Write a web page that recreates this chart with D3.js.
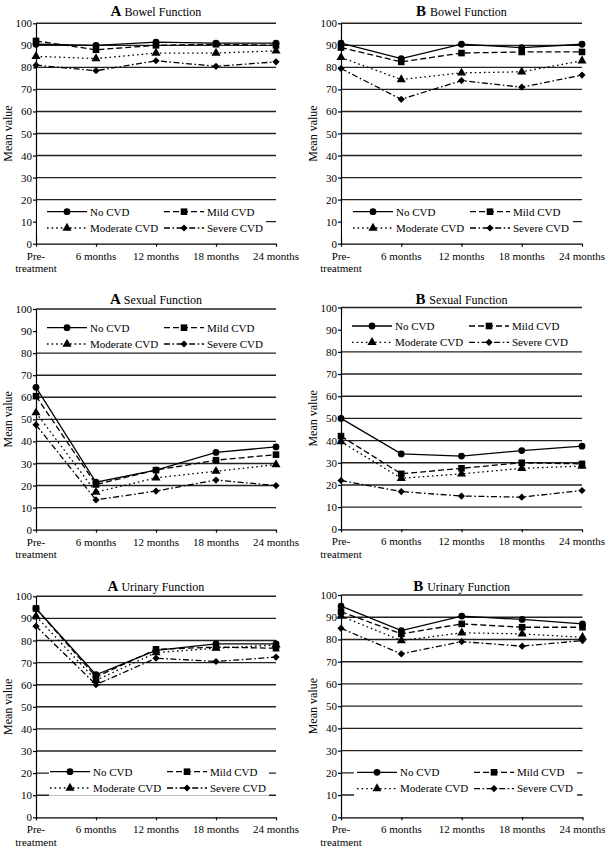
<!DOCTYPE html>
<html>
<head>
<meta charset="utf-8">
<script src="https://cdn.jsdelivr.net/npm/d3@7"></script>
<style>
  html, body { margin: 0; padding: 0; background: #fff; }
  svg { display: block; }
  svg text { font-family: "Liberation Serif", "Times New Roman", Times, serif !important; fill: #000; }
</style>
</head>
<body>
<svg id="chart" width="605" height="848"></svg>
<script>
// ---------- data ----------
const categories = ["Pre-treatment", "6 months", "12 months", "18 months", "24 months"];
const seriesNames = ["No CVD", "Mild CVD", "Moderate CVD", "Severe CVD"];
const yTicks = [0, 10, 20, 30, 40, 50, 60, 70, 80, 90, 100];

// each: [No CVD, Mild CVD, Moderate CVD, Severe CVD]
const bowelA = [
  [90.5, 90, 91.5, 91, 91],
  [92, 88, 90, 90.5, 90],
  [85, 84, 86.5, 86.5, 87.5],
  [81, 78.5, 83, 80.5, 82.5]
];
const bowelB = [
  [91, 84, 90.5, 89, 90.5],
  [89, 82.5, 86.5, 87, 87],
  [84.5, 74.5, 77.5, 78, 83],
  [79.5, 65.5, 74, 71, 76.5]
];
const sexualA = [
  [64.5, 21.5, 27, 35, 37.5],
  [60.5, 20.5, 27, 31.5, 34],
  [53, 17, 23.5, 26.5, 29.5],
  [47.5, 13.5, 17.5, 22.5, 20]
];
const sexualB = [
  [50, 34, 33, 35.5, 37.5],
  [42, 25, 27.5, 30, 29.5],
  [39.5, 23, 25, 27.5, 28.5],
  [22, 17, 15, 14.5, 17.5]
];
const urinaryA = [
  [94.5, 64.5, 75.5, 78.5, 78.5],
  [94.5, 63.5, 76, 77, 76.5],
  [91, 62, 74.5, 76.5, 78],
  [86.5, 60, 72, 70.5, 72.5]
];
const urinaryB = [
  [95, 84, 90.5, 89, 87],
  [92.5, 82.5, 87, 85.5, 85.5],
  [90.5, 79.5, 83, 82.5, 81],
  [85, 73.5, 79, 77, 79.5]
];

// ---------- layout ----------
const panels = [
  { letter: "A", title: "Bowel Function", data: bowelA, x0: 36, x1: 276, yTop: 23.3, yBot: 243.7, titleY: 10,
    lg: { lx: 47, ly: 211.7, left: 37, right: 266 } },
  { letter: "B", title: "Bowel Function", data: bowelB, x0: 341, x1: 582, yTop: 23.3, yBot: 243.7, titleY: 10,
    lg: { lx: 353, ly: 211.7, left: 342, right: 573 } },
  { letter: "A", title: "Sexual Function", data: sexualA, x0: 36, x1: 276, yTop: 309, yBot: 529.7, titleY: 298.3,
    lg: { lx: 47, ly: 327.7, left: 37, right: 277 } },
  { letter: "B", title: "Sexual Function", data: sexualB, x0: 341, x1: 582, yTop: 307.5, yBot: 529.3, titleY: 298.3,
    lg: { lx: 352, ly: 326, left: 342, right: 583 } },
  { letter: "A", title: "Urinary Function", data: urinaryA, x0: 36, x1: 276, yTop: 596.3, yBot: 817.3, titleY: 585.7,
    lg: { lx: 50, ly: 771.7, left: 49, right: 269 } },
  { letter: "B", title: "Urinary Function", data: urinaryB, x0: 341, x1: 582.5, yTop: 595, yBot: 817.3, titleY: 585.7,
    lg: { lx: 357, ly: 772.3, left: 354, right: 577 } }
];

const styles = [
  { dash: null, symbol: "circle" },
  { dash: "6,3", symbol: "square" },
  { dash: "1.6,3", symbol: "triangle" },
  { dash: "6,2.5,1.6,2.5", symbol: "diamond" }
];

const FONT = "'Liberation Serif', 'Times New Roman', Times, serif";
const svg = d3.select("#chart");
svg.append("rect").attr("width", 605).attr("height", 848).attr("fill", "#fff");

function drawMarker(g, type, x, y) {
  if (type === "circle") {
    g.append("circle").attr("cx", x).attr("cy", y).attr("r", 3.4).attr("fill", "#000");
  } else if (type === "square") {
    g.append("rect").attr("x", x - 3.3).attr("y", y - 3.3).attr("width", 6.6).attr("height", 6.6).attr("fill", "#000");
  } else if (type === "triangle") {
    g.append("path").attr("d", d3.symbol().type(d3.symbolTriangle).size(36)()).attr("transform", `translate(${x},${y})`).attr("fill", "#000");
  } else {
    g.append("path").attr("d", d3.symbol().type(d3.symbolSquare).size(26)()).attr("transform", `translate(${x},${y}) rotate(45)`).attr("fill", "#000");
  }
}

panels.forEach(p => {
  const g = svg.append("g").attr("font-family", FONT);
  const x = d3.scalePoint().domain(categories).range([p.x0, p.x1]);
  const y = d3.scaleLinear().domain([0, 100]).range([p.yBot, p.yTop]);

  // gridlines
  g.append("g").selectAll("line").data(yTicks.filter(t => t > 0)).join("line")
    .attr("x1", p.x0).attr("x2", p.x1)
    .attr("y1", d => y(d)).attr("y2", d => y(d))
    .attr("stroke", "#222").attr("stroke-width", 1.4);

  // y axis
  const ya = g.append("g").attr("transform", `translate(${p.x0},0)`)
    .call(d3.axisLeft(y).tickValues(yTicks).tickSize(3).tickPadding(1).tickSizeOuter(0));
  ya.attr("font-family", FONT).attr("font-size", 11);
  ya.select(".domain").attr("stroke", "#000").attr("stroke-width", 1.2);
  ya.selectAll(".tick line").attr("stroke", "#000").attr("stroke-width", 1.2);
  ya.selectAll("text").attr("fill", "#000");

  // x axis
  const xa = g.append("g").attr("transform", `translate(0,${p.yBot})`)
    .call(d3.axisBottom(x).tickSize(3).tickSizeOuter(0).tickFormat(""));
  xa.select(".domain").attr("stroke", "#000").attr("stroke-width", 1.2);
  xa.selectAll(".tick line").attr("stroke", "#000").attr("stroke-width", 1.2);
  xa.selectAll(".tick text").remove();
  categories.forEach(c => {
    const lines = c === "Pre-treatment" ? ["Pre-", "treatment"] : [c];
    lines.forEach((t, i) => {
      g.append("text").attr("x", x(c)).attr("y", p.yBot + 12 + i * 12.5)
        .attr("dy", "0.35em").attr("text-anchor", "middle")
        .attr("font-size", 11).text(t);
    });
  });

  // title
  const tt = g.append("text").attr("x", (p.x0 + p.x1) / 2).attr("y", p.titleY)
    .attr("dy", "0.35em").attr("text-anchor", "middle");
  tt.append("tspan").attr("font-weight", "bold").attr("font-size", 15).text(p.letter + " ");
  tt.append("tspan").attr("font-size", 12).text(p.title);

  // y label
  g.append("text").attr("transform", `translate(${p.x0 - 28},${(p.yTop + p.yBot) / 2}) rotate(-90)`)
    .attr("dy", "0.35em").attr("text-anchor", "middle").attr("font-size", 12).text("Mean value");

  // series
  const line = d3.line().x((d, i) => x(categories[i])).y(d => y(d));
  p.data.forEach((vals, si) => {
    const s = styles[si];
    g.append("path").attr("d", line(vals)).attr("fill", "none")
      .attr("stroke", "#000").attr("stroke-width", 1.3)
      .attr("stroke-dasharray", s.dash);
    vals.forEach((v, i) => drawMarker(g, s.symbol, x(categories[i]), y(v)));
  });

  // legend
  const L = p.lg;
  const lg = g.append("g");
  lg.append("rect").attr("x", L.left).attr("y", L.ly - 8).attr("width", L.right - L.left).attr("height", 32)
    .attr("fill", "#fff");
  seriesNames.forEach((name, si) => {
    const col = si % 2, row = Math.floor(si / 2);
    const bx = L.lx + col * 117, by = L.ly + row * 16.3;
    lg.append("line").attr("x1", bx).attr("x2", bx + 40).attr("y1", by).attr("y2", by)
      .attr("stroke", "#000").attr("stroke-width", 1.3).attr("stroke-dasharray", styles[si].dash);
    drawMarker(lg, styles[si].symbol, bx + 20, by);
    lg.append("text").attr("x", bx + 43).attr("y", by).attr("dy", "0.35em")
      .attr("font-size", 11).text(name);
  });
});
</script>
</body>
</html>
